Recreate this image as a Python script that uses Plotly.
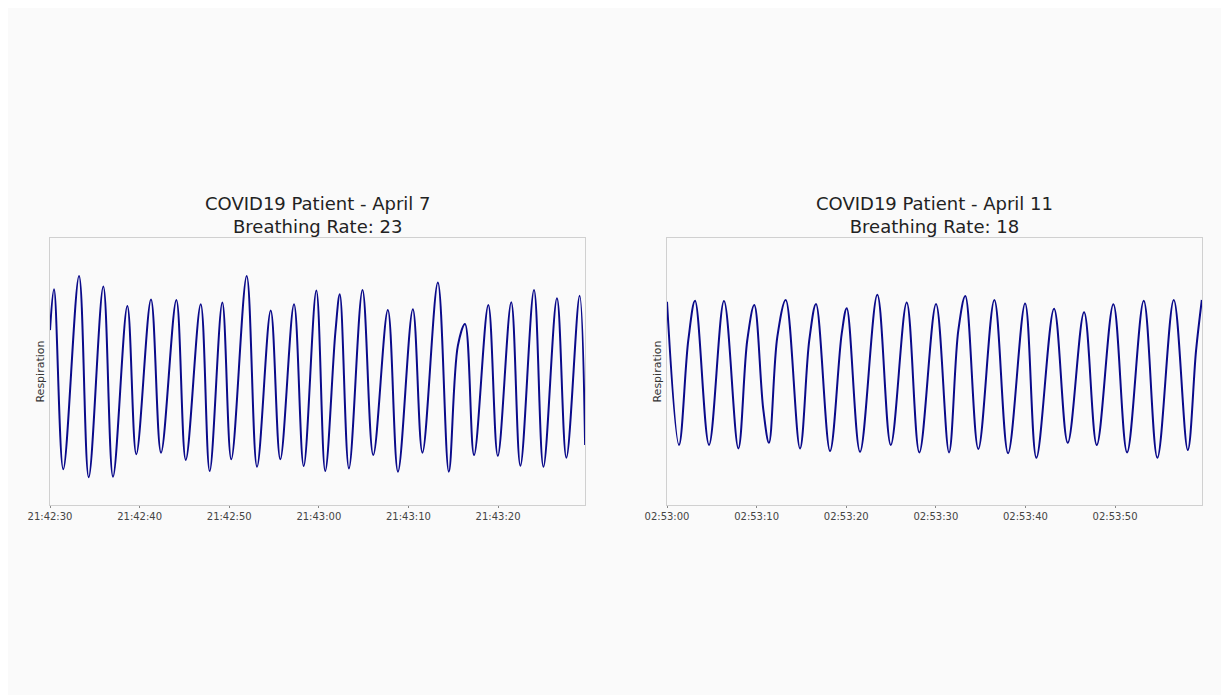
import pandas as pd
import plotly.graph_objects as go

# ---- Data (seconds after start, respiration in arbitrary units) ----
april7_start = "2020-04-07 21:42:30"
april7_t = [0.0, 0.45, 1.48, 3.24, 4.32, 5.95, 7.03, 8.63, 9.63, 11.27, 12.39, 14.10, 15.15,
            16.82, 17.82, 19.23, 20.23, 21.95, 23.10, 24.63, 25.70, 27.23, 28.31, 29.72,
            30.71, 31.85, 32.34, 33.36, 34.87, 36.07, 37.70, 38.83, 40.49, 41.56, 43.28,
            44.50, 45.51, 46.31, 47.32, 48.91, 49.97, 51.47, 52.49, 54.01, 55.06, 56.57,
            57.62, 59.10, 59.71]
april7_v = [65.5, 80.8, 13.4, 85.8, 10.4, 81.8, 10.6, 74.5, 19.0, 77.0, 19.6, 76.8, 16.9,
            75.2, 12.7, 75.8, 17.1, 85.8, 14.3, 72.8, 17.1, 75.2, 14.6, 80.3,
            12.7, 64.9, 78.9, 13.7, 80.5, 18.7, 73.0, 12.5, 73.3, 19.6, 83.3,
            12.5, 59.6, 67.8, 18.7, 74.9, 18.4, 75.9, 14.7, 80.5, 14.3, 77.4,
            17.7, 78.4, 22.5]

april11_start = "2020-04-11 02:53:00"
april11_t = [0.0, 1.34, 2.38, 3.13, 4.69, 6.36, 7.96, 8.96, 9.74, 10.75, 11.38, 12.31, 13.25,
             14.84, 15.88, 16.63, 18.19, 19.50, 20.06, 21.54, 23.47, 24.97, 26.75, 28.16,
             30.02, 31.47, 32.51, 33.29, 34.74, 36.53, 38.06, 39.96, 41.22, 43.19, 44.72,
             46.54, 47.96, 49.81, 51.34, 53.20, 54.72, 56.55, 58.11, 59.04, 59.68]
april11_v = [76.1, 22.5, 61.8, 76.5, 22.5, 76.4, 21.2, 61.8, 74.9, 35.6, 23.3, 63.0, 76.8,
             21.2, 61.8, 75.3, 20.2, 64.3, 73.7, 19.9, 78.7, 22.5, 75.8, 19.7,
             75.3, 19.7, 65.5, 78.3, 21.0, 76.8, 19.4, 75.5, 17.7, 73.5, 23.3,
             72.2, 22.5, 75.2, 19.7, 76.5, 17.7, 76.8, 20.6, 58.0, 76.8]

titles = ["COVID19 Patient - April 7<br>Breathing Rate: 23",
          "COVID19 Patient - April 11<br>Breathing Rate: 18"]
y_label = "Respiration"

x7 = pd.Timestamp(april7_start) + pd.to_timedelta(april7_t, unit="s")
x11 = pd.Timestamp(april11_start) + pd.to_timedelta(april11_t, unit="s")

W, H = 1229, 695
BG = "#fafafa"
LINE = "#0a0a8a"
FRAME = "#d0d0d0"
FONT = "DejaVu Sans"

fig = go.Figure()
fig.add_trace(go.Scatter(x=x7, y=april7_v, mode="lines", xaxis="x", yaxis="y",
                         line=dict(color=LINE, width=2, shape="spline", smoothing=1.0),
                         showlegend=False, hoverinfo="x+y"))
fig.add_trace(go.Scatter(x=x11, y=april11_v, mode="lines", xaxis="x2", yaxis="y2",
                         line=dict(color=LINE, width=2, shape="spline", smoothing=1.0),
                         showlegend=False, hoverinfo="x+y"))

ydom = [1 - 497 / H, 1 - 230 / H]
xd1 = [42 / W, 577 / W]
xd2 = [659 / W, 1194 / W]

def xaxis(domain, start, anchor):
    s = pd.Timestamp(start)
    return dict(domain=domain, anchor=anchor, type="date", automargin=False,
                range=[s, s + pd.Timedelta(seconds=59.7)],
                tick0=s, dtick=10000, tickformat="%H:%M:%S",
                showgrid=False, zeroline=False,
                showline=True, mirror=True, linecolor=FRAME, linewidth=1,
                ticks="outside", ticklen=2, tickcolor="#888", tickwidth=1,
                tickfont=dict(family=FONT, size=10, color="#444"))

def yaxis(anchor):
    return dict(domain=ydom, anchor=anchor, range=[0, 100], automargin=False,
                showgrid=False, zeroline=False, showticklabels=False, ticks="",
                showline=True, mirror=True, linecolor=FRAME, linewidth=1,
                title=dict(text=y_label, standoff=2,
                           font=dict(family=FONT, size=11, color="#333")))

fig.update_layout(
    width=W, height=H,
    margin=dict(l=0, r=0, t=0, b=0),
    paper_bgcolor=BG, plot_bgcolor=BG,
    xaxis=xaxis(xd1, april7_start, "y"),
    yaxis=yaxis("x"),
    xaxis2=xaxis(xd2, april11_start, "y2"),
    yaxis2=yaxis("x2"),
    font=dict(family=FONT),
)

for i, (dom, txt) in enumerate(zip([xd1, xd2], titles)):
    fig.add_annotation(text=txt, xref="paper", yref="paper",
                       x=(dom[0] + dom[1]) / 2, y=ydom[1] - 1 / H,
                       xanchor="center", yanchor="bottom", showarrow=False,
                       font=dict(family=FONT, size=18, color="#222"))

fig.write_html("out.html")
